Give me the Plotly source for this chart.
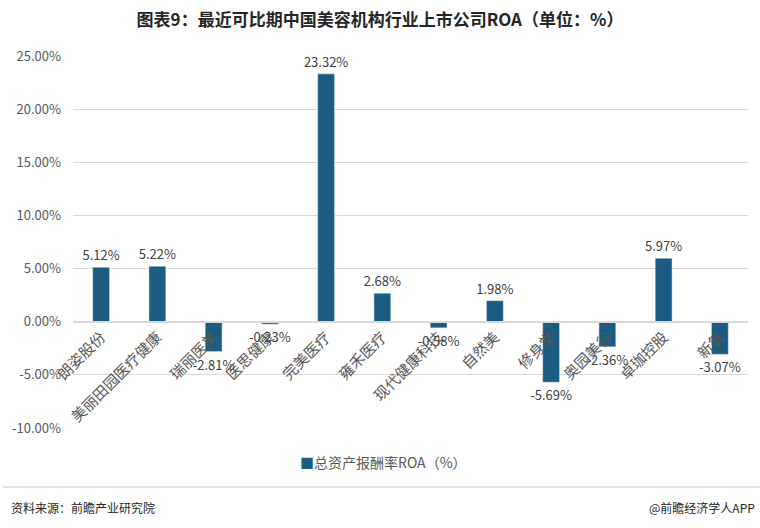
import plotly.graph_objects as go

categories = ["朗姿股份", "美丽田园医疗健康", "瑞丽医美", "医思健康", "完美医疗", "雍禾医疗",
              "现代健康科技", "自然美", "修身堂", "奥园美谷", "卓珈控股", "新氧"]
roa = [5.12, 5.22, -2.81, -0.23, 23.32, 2.68, -0.58, 1.98, -5.69, -2.36, 5.97, -3.07]
y_ticks = [-10, -5, 0, 5, 10, 15, 20, 25]
y_tick_labels = [f"{v:.2f}%" for v in y_ticks]
series_name = "总资产报酬率ROA（%）"

FONT = "Noto Sans CJK SC"
BAR = "#1B5C80"

fig = go.Figure()
fig.add_trace(go.Bar(
    x=categories, y=roa, name=series_name,
    marker_color=BAR, width=0.3,
    text=[f"{v:.2f}%" for v in roa], textposition="outside",
    textfont=dict(size=13, color="#404040", family=FONT),
    constraintext="none", cliponaxis=False,
))

ymin, ymax = -10, 25
PW, PH = 678, 372
fig.update_layout(
    width=760, height=528,
    margin=dict(l=70, r=12, t=56, b=100),
    paper_bgcolor="white", plot_bgcolor="white",
    font=dict(family=FONT, color="#595959"),
    title=dict(text="<b>图表9：最近可比期中国美容机构行业上市公司ROA（单位：%）</b>",
               x=0.5, xanchor="center", y=0.962, yanchor="middle",
               font=dict(size=17, color="#262626", family=FONT)),
    showlegend=False,
    bargap=0.7,
)
fig.update_yaxes(range=[ymin, ymax], tickvals=y_ticks, ticktext=y_tick_labels,
                 showgrid=True, gridcolor="#D9D9D9", gridwidth=1, zeroline=False,
                 tickfont=dict(size=13, color="#595959"), ticks="", showline=False,
                 ticklabelstandoff=11)
fig.update_xaxes(anchor="free", position=(0 - ymin) / (ymax - ymin),
                 showline=True, linecolor="#D9D9D9", linewidth=1.5,
                 tickangle=-45, ticks="", tickfont=dict(size=15, color="#595959"),
                 showgrid=False)

# legend
fig.add_annotation(text=f"<span style='color:{BAR}'>■</span>{series_name}",
                   xref="paper", yref="paper", x=(296 - 70) / PW, xanchor="left",
                   y=-(462 - 428) / PH, yanchor="middle", showarrow=False,
                   font=dict(size=14, color="#595959", family=FONT))

fig.add_shape(type="line", xref="paper", yref="paper", x0=-70 / PW, x1=(760 - 70) / PW,
              y0=-(487 - 428) / PH, y1=-(487 - 428) / PH, line=dict(color="#D9D9D9", width=1.5))
fig.add_annotation(text="资料来源：前瞻产业研究院", xref="paper", yref="paper",
                   x=-64 / PW, xanchor="left", y=-(507 - 428) / PH, yanchor="middle",
                   showarrow=False, font=dict(size=12, color="#262626", family=FONT))
fig.add_annotation(text="@前瞻经济学人APP", xref="paper", yref="paper",
                   x=(757 - 70) / PW, xanchor="right", y=-(507 - 428) / PH, yanchor="middle",
                   showarrow=False, font=dict(size=12, color="#262626", family=FONT))

fig.write_html("out.html")
